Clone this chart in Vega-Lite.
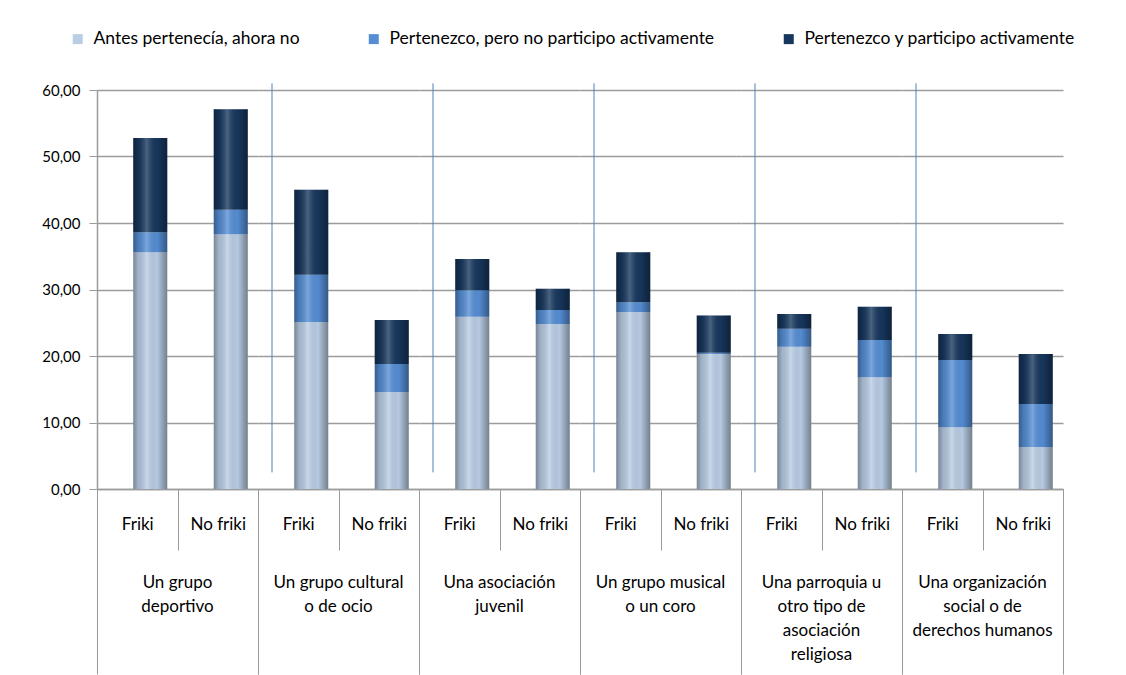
{
  "$schema": "https://vega.github.io/schema/vega-lite/v6.json",
  "background": "white",
  "padding": {"left": 41, "top": 30, "right": 5, "bottom": 5},
  "data": {"values": [
    {"grupo": "Un grupo deportivo", "tipo": "Friki", "serie": "Antes pertenecía, ahora no", "orden": 1, "valor": 35.6},
    {"grupo": "Un grupo deportivo", "tipo": "Friki", "serie": "Pertenezco, pero no participo activamente", "orden": 2, "valor": 3.0},
    {"grupo": "Un grupo deportivo", "tipo": "Friki", "serie": "Pertenezco y participo activamente", "orden": 3, "valor": 14.2},
    {"grupo": "Un grupo deportivo", "tipo": "No friki", "serie": "Antes pertenecía, ahora no", "orden": 1, "valor": 38.3},
    {"grupo": "Un grupo deportivo", "tipo": "No friki", "serie": "Pertenezco, pero no participo activamente", "orden": 2, "valor": 3.7},
    {"grupo": "Un grupo deportivo", "tipo": "No friki", "serie": "Pertenezco y participo activamente", "orden": 3, "valor": 15.1},
    {"grupo": "Un grupo cultural o de ocio", "tipo": "Friki", "serie": "Antes pertenecía, ahora no", "orden": 1, "valor": 25.1},
    {"grupo": "Un grupo cultural o de ocio", "tipo": "Friki", "serie": "Pertenezco, pero no participo activamente", "orden": 2, "valor": 7.1},
    {"grupo": "Un grupo cultural o de ocio", "tipo": "Friki", "serie": "Pertenezco y participo activamente", "orden": 3, "valor": 12.8},
    {"grupo": "Un grupo cultural o de ocio", "tipo": "No friki", "serie": "Antes pertenecía, ahora no", "orden": 1, "valor": 14.6},
    {"grupo": "Un grupo cultural o de ocio", "tipo": "No friki", "serie": "Pertenezco, pero no participo activamente", "orden": 2, "valor": 4.2},
    {"grupo": "Un grupo cultural o de ocio", "tipo": "No friki", "serie": "Pertenezco y participo activamente", "orden": 3, "valor": 6.6},
    {"grupo": "Una asociación juvenil", "tipo": "Friki", "serie": "Antes pertenecía, ahora no", "orden": 1, "valor": 25.9},
    {"grupo": "Una asociación juvenil", "tipo": "Friki", "serie": "Pertenezco, pero no participo activamente", "orden": 2, "valor": 4.0},
    {"grupo": "Una asociación juvenil", "tipo": "Friki", "serie": "Pertenezco y participo activamente", "orden": 3, "valor": 4.7},
    {"grupo": "Una asociación juvenil", "tipo": "No friki", "serie": "Antes pertenecía, ahora no", "orden": 1, "valor": 24.8},
    {"grupo": "Una asociación juvenil", "tipo": "No friki", "serie": "Pertenezco, pero no participo activamente", "orden": 2, "valor": 2.1},
    {"grupo": "Una asociación juvenil", "tipo": "No friki", "serie": "Pertenezco y participo activamente", "orden": 3, "valor": 3.2},
    {"grupo": "Un grupo musical o un coro", "tipo": "Friki", "serie": "Antes pertenecía, ahora no", "orden": 1, "valor": 26.6},
    {"grupo": "Un grupo musical o un coro", "tipo": "Friki", "serie": "Pertenezco, pero no participo activamente", "orden": 2, "valor": 1.5},
    {"grupo": "Un grupo musical o un coro", "tipo": "Friki", "serie": "Pertenezco y participo activamente", "orden": 3, "valor": 7.5},
    {"grupo": "Un grupo musical o un coro", "tipo": "No friki", "serie": "Antes pertenecía, ahora no", "orden": 1, "valor": 20.3},
    {"grupo": "Un grupo musical o un coro", "tipo": "No friki", "serie": "Pertenezco, pero no participo activamente", "orden": 2, "valor": 0.2},
    {"grupo": "Un grupo musical o un coro", "tipo": "No friki", "serie": "Pertenezco y participo activamente", "orden": 3, "valor": 5.6},
    {"grupo": "Una parroquia u otro tipo de asociación religiosa", "tipo": "Friki", "serie": "Antes pertenecía, ahora no", "orden": 1, "valor": 21.4},
    {"grupo": "Una parroquia u otro tipo de asociación religiosa", "tipo": "Friki", "serie": "Pertenezco, pero no participo activamente", "orden": 2, "valor": 2.7},
    {"grupo": "Una parroquia u otro tipo de asociación religiosa", "tipo": "Friki", "serie": "Pertenezco y participo activamente", "orden": 3, "valor": 2.2},
    {"grupo": "Una parroquia u otro tipo de asociación religiosa", "tipo": "No friki", "serie": "Antes pertenecía, ahora no", "orden": 1, "valor": 16.8},
    {"grupo": "Una parroquia u otro tipo de asociación religiosa", "tipo": "No friki", "serie": "Pertenezco, pero no participo activamente", "orden": 2, "valor": 5.6},
    {"grupo": "Una parroquia u otro tipo de asociación religiosa", "tipo": "No friki", "serie": "Pertenezco y participo activamente", "orden": 3, "valor": 5.0},
    {"grupo": "Una organización social o de derechos humanos", "tipo": "Friki", "serie": "Antes pertenecía, ahora no", "orden": 1, "valor": 9.3},
    {"grupo": "Una organización social o de derechos humanos", "tipo": "Friki", "serie": "Pertenezco, pero no participo activamente", "orden": 2, "valor": 10.1},
    {"grupo": "Una organización social o de derechos humanos", "tipo": "Friki", "serie": "Pertenezco y participo activamente", "orden": 3, "valor": 3.9},
    {"grupo": "Una organización social o de derechos humanos", "tipo": "No friki", "serie": "Antes pertenecía, ahora no", "orden": 1, "valor": 6.3},
    {"grupo": "Una organización social o de derechos humanos", "tipo": "No friki", "serie": "Pertenezco, pero no participo activamente", "orden": 2, "valor": 6.5},
    {"grupo": "Una organización social o de derechos humanos", "tipo": "No friki", "serie": "Pertenezco y participo activamente", "orden": 3, "valor": 7.5}
  ]},
  "facet": {
    "column": {
      "field": "grupo",
      "type": "nominal",
      "title": null,
      "sort": ["Un grupo deportivo", "Un grupo cultural o de ocio", "Una asociación juvenil", "Un grupo musical o un coro", "Una parroquia u otro tipo de asociación religiosa", "Una organización social o de derechos humanos"],
      "header": {
        "labelOrient": "bottom",
        "labelFont": "Lato",
        "labelFontSize": 17,
        "labelColor": "black",
        "labelPadding": -100,
        "labelLineHeight": 24,
        "labelBaseline": "top",
        "labelExpr": "datum.value == 'Un grupo deportivo' ? ['Un grupo','deportivo'] : datum.value == 'Un grupo cultural o de ocio' ? ['Un grupo cultural','o de ocio'] : datum.value == 'Una asociación juvenil' ? ['Una asociación','juvenil'] : datum.value == 'Un grupo musical o un coro' ? ['Un grupo musical','o un coro'] : datum.value == 'Una parroquia u otro tipo de asociación religiosa' ? ['Una parroquia u','otro tipo de','asociación','religiosa'] : ['Una organización','social o de','derechos humanos']"
      }
    }
  },
  "spacing": 0,
  "spec": {
    "width": 161,
    "height": 399,
    "layer": [
      {
        "transform": [{"filter": "datum.tipo == 'Friki' && datum.orden == 1 && datum.grupo != 'Un grupo deportivo'"}],
        "mark": {"type": "rule", "color": "#4F81BD", "strokeWidth": 1, "xOffset": 14},
        "encoding": {
          "x": {"field": "tipo", "type": "nominal", "bandPosition": 0},
          "y": {"datum": 2.5},
          "y2": {"datum": 61}
        }
      },
      {
        "mark": {"type": "bar", "width": 34, "xOffset": 13},
        "encoding": {
          "x": {"field": "tipo", "type": "nominal", "sort": ["Friki", "No friki"],
            "axis": {
              "title": null, "labelAngle": 0, "labelAlign": "center", "labelFont": "Lato", "labelFontSize": 17, "labelColor": "black",
              "tickBand": "extent", "tickColor": "#9A9A9A", "tickWidth": 1,
              "tickSize": {"condition": {"test": "datum.value === 'No friki' || datum.extra", "value": 185}, "value": 61},
              "labelBaseline": "middle",
              "labelPadding": {"condition": {"test": "datum.value === 'No friki'", "value": -150}, "value": -26},
              "domainColor": "#9A9A9A", "domainWidth": 1.5
            }
          },
          "y": {"field": "valor", "type": "quantitative", "stack": "zero",
            "scale": {"domain": [0, 60], "nice": false},
            "axis": {
              "title": null, "values": [0, 10, 20, 30, 40, 50, 60],
              "labelExpr": "replace(format(datum.value, '.2f'), '.', ',')",
              "labelFont": "Lato", "labelFontSize": 15, "labelColor": "black",
              "tickSize": 8, "tickColor": "#9A9A9A", "labelPadding": 9,
              "domainColor": "#9A9A9A", "domainWidth": 1.5,
              "gridColor": "#9C9C9C", "gridWidth": 1.5
            }
          },
          "color": {"field": "serie", "type": "nominal",
            "scale": {"domain": ["Antes pertenecía, ahora no", "Pertenezco, pero no participo activamente", "Pertenezco y participo activamente"],
                      "range": ["#B9CDE5", "#558ED5", "#17375E"]},
            "legend": {
              "title": null, "orient": "none", "direction": "horizontal",
              "legendX": -28, "legendY": -60,
              "symbolType": "square", "symbolSize": 100, "symbolStrokeWidth": 0,
              "labelFont": "Lato", "labelFontSize": 17.5, "labelColor": "black",
              "labelOffset": 7, "columnPadding": 65, "labelLimit": 500
            }
          },
          "order": {"field": "orden", "type": "quantitative"}
        }
      },
      {
        "mark": {"type": "bar", "width": 34, "xOffset": 13,
          "fill": {"gradient": "linear", "x1": 0, "x2": 1, "y1": 0, "y2": 0,
            "stops": [
              {"offset": 0, "color": "rgba(0,0,0,0.35)"},
              {"offset": 0.15, "color": "rgba(0,0,0,0.12)"},
              {"offset": 0.4, "color": "rgba(255,255,255,0.22)"},
              {"offset": 0.7, "color": "rgba(0,0,0,0.02)"},
              {"offset": 1, "color": "rgba(0,0,0,0.38)"}
            ]}},
        "encoding": {
          "x": {"field": "tipo", "type": "nominal", "sort": ["Friki", "No friki"]},
          "y": {"field": "valor", "type": "quantitative", "stack": "zero"},
          "detail": {"field": "serie"},
          "order": {"field": "orden", "type": "quantitative"}
        }
      }
    ]
  },
  "config": {
    "view": {"stroke": null},
    "axis": {"grid": true},
    "axisX": {"grid": false}
  }
}
